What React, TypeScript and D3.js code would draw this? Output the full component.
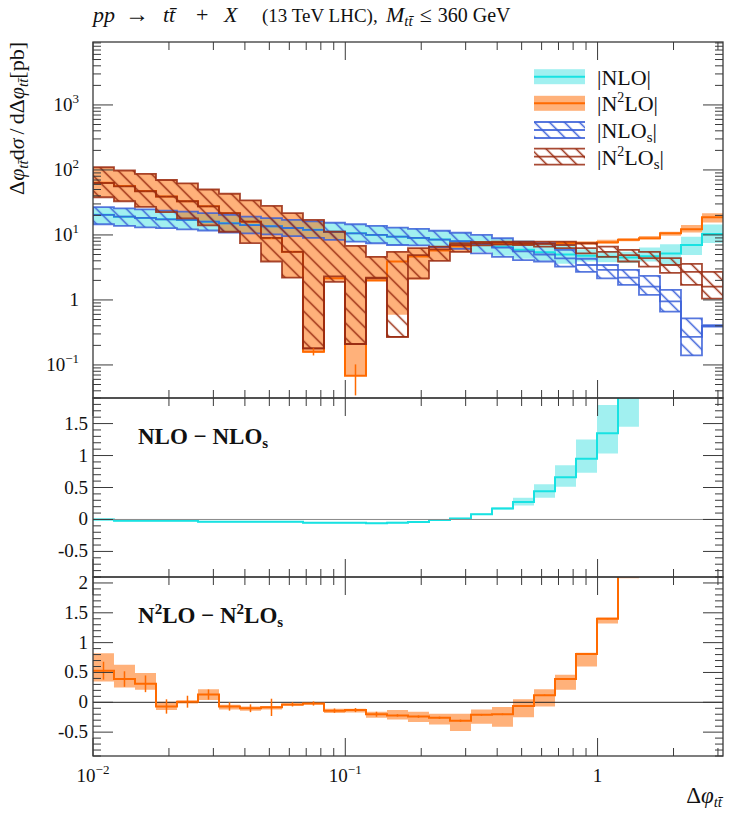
import * as d3 from "d3";

// bin edges in Δφ (30 log-spaced bins from 0.01 to π)
const binEdges = [
  0.01, 0.01211, 0.01467, 0.01777, 0.02152, 0.02607, 0.03158, 0.03825, 0.04633, 0.05612,
  0.06797, 0.08233, 0.09974, 0.1208, 0.1463, 0.1772, 0.2147, 0.26, 0.315, 0.3815,
  0.4621, 0.5598, 0.6781, 0.8212, 0.9948, 1.205, 1.459, 1.768, 2.141, 2.593, 3.1416,
];

// top panel: |NLO|
const nloCentral = [20.4, 19.1, 18.3, 17.4, 17.0, 16.0, 15.1, 14.2, 13.6, 12.8, 12.0, 11.2, 10.6, 10.0, 9.4, 9.0, 8.5, 8.0, 7.3, 6.6, 5.9, 5.4, 5.0, 4.8, 4.6, 4.5, 4.7, 5.2, 7.0, 10.3];
const nloLow = [14.6, 13.8, 13.1, 12.7, 12.2, 11.7, 10.9, 10.6, 10.2, 9.6, 9.0, 8.4, 7.9, 7.45, 7.0, 6.9, 6.5, 6.1, 5.4, 4.8, 4.3, 4.0, 3.6, 3.9, 3.8, 3.7, 3.9, 3.45, 4.9, 7.5];
const nloHigh = [26.7, 25.7, 24.8, 23.6, 22.9, 21.6, 20.4, 19.1, 18.2, 17.1, 16.2, 15.4, 14.6, 13.8, 13.0, 12.4, 11.6, 10.8, 9.9, 9.0, 8.2, 7.5, 7.0, 6.0, 5.6, 5.5, 6.4, 7.2, 9.4, 14.5];

// top panel: |N2LO|
const n2loCentral = [63.5, 56.4, 47.3, 38.9, 33, 27.6, 21.5, 15.9, 8.9, 5.5, 0.16, 2.16, 0.068, 2.0, 3.9, 4.66, 5.74, 6.7, 7.3, 7.4, 7.45, 7.45, 7.5, 7.45, 7.7, 8.4, 8.9, 10.6, 12.2, 18.7];
const n2loLow = [38.5, 33.4, 27.3, 22.7, 18.2, 14.2, 11.3, 7.6, 3.9, 2.2, 0.153, 1.95, 0.068, 1.95, 0.59, 2.05, 4.0, 5.4, 6.9, 7.0, 7.0, 7.0, 7.1, 7.1, 7.3, 8.0, 8.5, 9.7, 10.9, 15.5];
const n2loHigh = [111, 99, 88, 71, 63, 51, 43.5, 34.5, 28, 21.6, 17, 11.3, 6.8, 4.7, 5.5, 6.3, 6.7, 7.6, 7.9, 8.0, 8.0, 8.0, 8.1, 8.0, 8.4, 8.9, 9.6, 11.2, 14.2, 21.6];
const n2loErr = [0.15, 0.13, 0.14, 0.12, 0.1, 0.085, 0.07, 0.065, 0.145, 0.035, 0.02, 0.036, 0.034, 0.042, 0.02, 0.02, 0.02, 0.02, 0.015, 0.015, 0.01, 0.01, 0.01, 0.01, 0.01, 0.01, 0.01, 0.01, 0.01, 0.01];

// top panel: |NLOs|
const nlosCentral = [20.4, 19.1, 18.3, 17.4, 17.0, 16.0, 15.1, 14.2, 13.6, 12.8, 12.0, 11.2, 10.6, 10.0, 9.4, 9.0, 8.5, 8.0, 7.2, 6.4, 5.6, 5.0, 4.35, 3.45, 2.9, 2.2, 1.6, 0.95, 0.27, 0.4];
const nlosLow = [14.6, 13.8, 13.1, 12.7, 12.2, 11.7, 10.9, 10.6, 10.2, 9.6, 9.0, 8.4, 7.9, 7.45, 7.0, 6.9, 6.5, 6.1, 5.2, 4.6, 4.1, 3.9, 3.25, 2.7, 2.15, 1.7, 1.2, 0.66, 0.14, 0.39];
const nlosHigh = [26.7, 25.7, 24.8, 23.6, 22.9, 21.6, 20.4, 19.1, 18.2, 17.1, 16.2, 15.4, 14.6, 13.8, 13.0, 12.4, 11.6, 10.8, 10.0, 8.9, 7.9, 7.45, 5.9, 4.3, 3.45, 2.9, 2.34, 1.43, 0.52, 0.41];

// top panel: |N2LOs|
const n2losCentral = [63, 56, 47, 39, 33, 27.5, 21.6, 16, 9, 5.5, 0.18, 2.3, 0.21, 2.2, 0.27, 4.9, 6.0, 7.0, 7.5, 7.6, 7.5, 7.3, 7.0, 6.25, 5.5, 4.9, 4.4, 3.45, 2.7, 1.6];
const n2losLow = [38, 33, 27, 22.5, 18, 14, 11.2, 7.5, 3.9, 2.2, 0.18, 1.9, 0.21, 2.15, 0.27, 2.15, 4.0, 5.5, 6.9, 7.1, 7.0, 6.6, 6.25, 5.2, 4.6, 3.9, 3.25, 2.6, 1.7, 1.05];
const n2losHigh = [110, 98, 87, 70, 62, 50, 43, 34, 28, 21.6, 17, 11.2, 6.8, 4.6, 5.5, 6.25, 6.6, 7.5, 7.8, 7.9, 7.9, 7.9, 7.9, 7.45, 6.6, 5.9, 5.5, 4.4, 3.6, 2.7];

// middle panel: NLO - NLOs
const dNloCentral = [0.0, -0.02, -0.02, -0.02, -0.02, -0.035, -0.035, -0.035, -0.035, -0.035, -0.05, -0.05, -0.05, -0.06, -0.05, -0.04, -0.01, 0.015, 0.08, 0.17, 0.275, 0.44, 0.66, 0.95, 1.35, 2.1, 3.2, 4.3, 6.7, 9.9];
const dNloLow = [-0.012, -0.032, -0.032, -0.032, -0.032, -0.047, -0.047, -0.047, -0.047, -0.047, -0.062, -0.062, -0.062, -0.072, -0.064, -0.055, -0.024, 0.004, 0.068, 0.155, 0.22, 0.34, 0.51, 0.73, 1.03, 1.45, 2.4, 3.3, 5.0, 8.0];
const dNloHigh = [0.012, -0.008, -0.008, -0.008, -0.008, -0.023, -0.023, -0.023, -0.023, -0.023, -0.038, -0.038, -0.038, -0.048, -0.036, -0.025, 0.004, 0.026, 0.092, 0.19, 0.34, 0.55, 0.85, 1.25, 1.79, 2.8, 4.0, 5.5, 8.0, 12.0];

// bottom panel: N2LO - N2LOs
const dN2loCentral = [0.53, 0.39, 0.31, -0.07, 0.01, 0.13, -0.07, -0.1, -0.085, -0.035, -0.02, -0.14, -0.13, -0.2, -0.22, -0.24, -0.26, -0.31, -0.21, -0.2, -0.06, 0.12, 0.39, 0.81, 1.4, 2.6, 3.8, 6.2, 9.5, 17];
const dN2loLow = [0.35, 0.25, 0.21, -0.13, -0.02, 0.04, -0.12, -0.14, -0.12, -0.06, -0.04, -0.18, -0.17, -0.26, -0.29, -0.33, -0.37, -0.48, -0.36, -0.41, -0.25, -0.07, 0.21, 0.6, 1.32, 2.08, 3.4, 5.6, 8.6, 15];
const dN2loHigh = [0.82, 0.63, 0.49, 0.01, 0.03, 0.22, -0.04, -0.07, -0.06, -0.02, 0.0, -0.11, -0.11, -0.16, -0.13, -0.16, -0.19, -0.19, -0.12, -0.08, 0.05, 0.22, 0.46, 0.83, 1.42, 2.9, 4.2, 6.8, 10.4, 19];
const dN2loErr = [0.15, 0.13, 0.14, 0.12, 0.1, 0.085, 0.07, 0.065, 0.145, 0.035, 0.035, 0.036, 0.034, 0.042, 0.02, 0.02, 0.02, 0.02, 0.015, 0.015, 0.01, 0.01, 0.01, 0.01, 0.01, 0.01, 0.01, 0.01, 0.01, 0.01];

const topTickLabels = [
  { v: 0.1, base: "10", exp: "−1" },
  { v: 1, base: "1", exp: "" },
  { v: 10, base: "10", exp: "1" },
  { v: 100, base: "10", exp: "2" },
  { v: 1000, base: "10", exp: "3" },
];
const midTickLabels = [-0.5, 0, 0.5, 1, 1.5];
const botTickLabels = [-0.5, 0, 0.5, 1, 1.5, 2];
const xTickLabels = [
  { v: 0.01, base: "10", exp: "−2" },
  { v: 0.1, base: "10", exp: "−1" },
  { v: 1, base: "1", exp: "" },
];

const W = 747;
const H = 815;
const X0 = 93;
const X1 = 723;
const TOP = [42, 398];
const MID = [398, 577];
const BOT = [577, 756];

const CYAN = "#00d6d6";
const CYAN_LINE = "#18e2e2";
const ORANGE = "#ff6a00";
const BLUE = "#3a5fd8";
const DARKRED = "#992a10";
const AXIS = "#3a3a3a";
const FONT = "'Liberation Serif', 'Times New Roman', serif";

const x = d3.scaleLog().domain([0.01, Math.PI]).range([X0, X1]);
const yTop = d3.scaleLog().domain([0.031, 9300]).range([TOP[1], TOP[0]]);
const yMid = d3.scaleLinear().domain([-0.9, 1.9]).range([MID[1], MID[0]]);
const yBot = d3.scaleLinear().domain([-0.9, 2.1]).range([BOT[1], BOT[0]]);

type Scale = (v: number) => number;

function stepLine(vals: number[], y: Scale) {
  const pts = vals.flatMap((v, i) => [[binEdges[i], v], [binEdges[i + 1], v]] as [number, number][]);
  return d3.line<[number, number]>().x((d) => x(d[0])).y((d) => y(d[1]))(pts) ?? "";
}

function stepBand(lo: number[], hi: number[], y: Scale) {
  const pts = lo.flatMap((v, i) => [[binEdges[i], v, hi[i]], [binEdges[i + 1], v, hi[i]]] as [number, number, number][]);
  return d3
    .area<[number, number, number]>()
    .x((d) => x(d[0]))
    .y0((d) => y(d[1]))
    .y1((d) => y(d[2]))(pts) ?? "";
}

function errorBars(c: number[], err: number[], y: Scale, color: string) {
  return c.map((v, i) => {
    const xc = x(Math.sqrt(binEdges[i] * binEdges[i + 1]));
    return <line key={i} x1={xc} x2={xc} y1={y(v - err[i])} y2={y(v + err[i])} stroke={color} strokeWidth={1.5} />;
  });
}

function XTicks({ y0, y1 }: { y0: number; y1: number }) {
  return (
    <g stroke={AXIS} strokeWidth={1}>
      {x.ticks().map((t, i) => {
        const lg = Math.log10(t);
        const major = Math.abs(lg - Math.round(lg)) < 1e-6;
        const len = major ? 18 : 8;
        const px = x(t);
        return (
          <g key={i}>
            <line x1={px} x2={px} y1={y0} y2={y0 + len} />
            <line x1={px} x2={px} y1={y1} y2={y1 - len} />
          </g>
        );
      })}
    </g>
  );
}

function YTicks({ ticks, y, isMajor }: { ticks: number[]; y: Scale; isMajor: (t: number) => boolean }) {
  return (
    <g stroke={AXIS} strokeWidth={1}>
      {ticks.map((t, i) => {
        const len = isMajor(t) ? 20 : 8;
        const py = y(t);
        return (
          <g key={i}>
            <line x1={X0} x2={X0 + len} y1={py} y2={py} />
            <line x1={X1} x2={X1 - len} y1={py} y2={py} />
          </g>
        );
      })}
    </g>
  );
}

const isHalf = (t: number) => Math.abs(t * 2 - Math.round(t * 2)) < 1e-6;
const isDecade = (t: number) => Math.abs(Math.log10(t) - Math.round(Math.log10(t))) < 1e-6;

function HatchBand({ lo, c, hi, color, pattern }: { lo: number[]; c: number[]; hi: number[]; color: string; pattern: string }) {
  const band = stepBand(lo, hi, yTop);
  return (
    <g>
      <path d={band} fill={`url(#${pattern})`} stroke="none" />
      <path d={band} fill="none" stroke={color} strokeWidth={1.8} strokeOpacity={0.85} />
      <path d={stepLine(c, yTop)} fill="none" stroke={color} strokeWidth={1.8} strokeOpacity={0.85} />
    </g>
  );
}

function Legend() {
  const rows = [76.7, 103.3, 130, 156.7];
  const sx = 534;
  const sw = 51;
  const tx = 597;
  const fs = 22;
  return (
    <g fontFamily={FONT} fontSize={fs} fill="#111">
      <rect x={sx} y={rows[0] - 7.5} width={sw} height={15} fill={CYAN} fillOpacity={0.37} />
      <line x1={sx} x2={sx + sw} y1={rows[0]} y2={rows[0]} stroke={CYAN_LINE} strokeWidth={2} />
      <text x={tx} y={rows[0] + 8}>|NLO|</text>

      <rect x={sx} y={rows[1] - 7.5} width={sw} height={15} fill={ORANGE} fillOpacity={0.52} />
      <line x1={sx} x2={sx + sw} y1={rows[1]} y2={rows[1]} stroke={ORANGE} strokeWidth={2} />
      <text x={tx} y={rows[1] + 8}>
        |N<tspan dy={-9} fontSize={14}>2</tspan>
        <tspan dy={9}>LO|</tspan>
      </text>

      <rect x={sx} y={rows[2] - 8} width={sw} height={16} fill="url(#hatchBlue)" />
      {[-8, 0, 8].map((d) => (
        <line key={d} x1={sx} x2={sx + sw} y1={rows[2] + d} y2={rows[2] + d} stroke={BLUE} strokeWidth={1.8} strokeOpacity={0.85} />
      ))}
      <text x={tx} y={rows[2] + 8}>
        |NLO<tspan dy={4} fontSize={15}>s</tspan>
        <tspan dy={-4}>|</tspan>
      </text>

      <rect x={sx} y={rows[3] - 8} width={sw} height={16} fill="url(#hatchRed)" />
      {[-8, 0, 8].map((d) => (
        <line key={d} x1={sx} x2={sx + sw} y1={rows[3] + d} y2={rows[3] + d} stroke={DARKRED} strokeWidth={1.8} strokeOpacity={0.85} />
      ))}
      <text x={tx} y={rows[3] + 8}>
        |N<tspan dy={-9} fontSize={14}>2</tspan>
        <tspan dy={9}>LO</tspan>
        <tspan dy={4} fontSize={15}>s</tspan>
        <tspan dy={-4}>|</tspan>
      </text>
    </g>
  );
}

function Title() {
  const y = 22;
  return (
    <text y={y} fontSize={22} fontFamily={FONT} fill="#111">
      <tspan x={93} fontStyle="italic">pp</tspan>
      <tspan x={125} fontSize={24}>→</tspan>
      <tspan x={163} fontStyle="italic">{"tt\u0304"}</tspan>
      <tspan x={196}>+</tspan>
      <tspan x={224} fontStyle="italic">X</tspan>
      <tspan x={262} fontSize={19}>(13 TeV LHC),</tspan>
      <tspan x={386} fontStyle="italic">M</tspan>
      <tspan fontSize={15} fontStyle="italic" dy={4}>{"tt\u0304"}</tspan>
      <tspan dy={-4} dx={7}>≤</tspan>
      <tspan dx={6} fontSize={20}>360 GeV</tspan>
    </text>
  );
}

export default function App() {
  return (
    <div style={{ position: "absolute", left: 0, top: 0, background: "#fff" }}>
      <svg width={W} height={H} viewBox={`0 0 ${W} ${H}`} style={{ display: "block" }}>
        <defs>
          <pattern id="hatchBlue" patternUnits="userSpaceOnUse" width={10.6} height={10.6} patternTransform="rotate(-45)">
            <line x1={5.3} x2={5.3} y1={-1} y2={12} stroke={BLUE} strokeWidth={1.5} />
          </pattern>
          <pattern id="hatchRed" patternUnits="userSpaceOnUse" width={10.6} height={10.6} patternTransform="rotate(-45)">
            <line x1={5.3} x2={5.3} y1={-1} y2={12} stroke={DARKRED} strokeWidth={1.5} />
          </pattern>
          <clipPath id="clipTop">
            <rect x={X0} y={TOP[0]} width={X1 - X0} height={TOP[1] - TOP[0]} />
          </clipPath>
          <clipPath id="clipMid">
            <rect x={X0} y={MID[0]} width={X1 - X0} height={MID[1] - MID[0]} />
          </clipPath>
          <clipPath id="clipBot">
            <rect x={X0} y={BOT[0]} width={X1 - X0} height={BOT[1] - BOT[0]} />
          </clipPath>
        </defs>
        <rect width={W} height={H} fill="#fff" />

        <Title />

        {/* top panel */}
        <g clipPath="url(#clipTop)">
          <path d={stepBand(nloLow, nloHigh, yTop)} fill={CYAN} fillOpacity={0.37} />
          <path d={stepBand(n2loLow, n2loHigh, yTop)} fill={ORANGE} fillOpacity={0.52} />
          <path d={stepLine(nloCentral, yTop)} fill="none" stroke={CYAN_LINE} strokeWidth={2} />
          <path d={stepLine(n2loCentral, yTop)} fill="none" stroke={ORANGE} strokeWidth={2} />
          <HatchBand lo={nlosLow} c={nlosCentral} hi={nlosHigh} color={BLUE} pattern="hatchBlue" />
          <HatchBand lo={n2losLow} c={n2losCentral} hi={n2losHigh} color={DARKRED} pattern="hatchRed" />
          {errorBars(n2loCentral, n2loErr, yTop, ORANGE)}
        </g>
        <Legend />

        {/* middle panel */}
        <g clipPath="url(#clipMid)">
          <path d={stepBand(dNloLow, dNloHigh, yMid)} fill={CYAN} fillOpacity={0.37} />
          <path d={stepLine(dNloCentral, yMid)} fill="none" stroke={CYAN_LINE} strokeWidth={2} />
          <line x1={X0} x2={X1} y1={yMid(0)} y2={yMid(0)} stroke="#888" strokeWidth={1} />
        </g>
        <text x={138} y={444} fontSize={23} fontWeight="bold" fontFamily={FONT} fill="#111">
          NLO − NLO<tspan dy={4} fontSize={15}>s</tspan>
        </text>

        {/* bottom panel */}
        <g clipPath="url(#clipBot)">
          <path d={stepBand(dN2loLow, dN2loHigh, yBot)} fill={ORANGE} fillOpacity={0.52} />
          <line x1={X0} x2={X1} y1={yBot(0)} y2={yBot(0)} stroke="#222" strokeWidth={1} />
          <path d={stepLine(dN2loCentral, yBot)} fill="none" stroke={ORANGE} strokeWidth={2} />
          {errorBars(dN2loCentral, dN2loErr, yBot, ORANGE)}
        </g>
        <text x={138} y={623} fontSize={23} fontWeight="bold" fontFamily={FONT} fill="#111">
          N<tspan dy={-9} fontSize={15}>2</tspan>
          <tspan dy={9}>LO − N</tspan>
          <tspan dy={-9} fontSize={15}>2</tspan>
          <tspan dy={9}>LO</tspan>
          <tspan dy={4} fontSize={15}>s</tspan>
        </text>

        {/* ticks */}
        <XTicks y0={TOP[0]} y1={TOP[1]} />
        <XTicks y0={MID[0]} y1={MID[1]} />
        <XTicks y0={BOT[0]} y1={BOT[1]} />
        <YTicks ticks={yTop.ticks()} y={yTop} isMajor={isDecade} />
        <YTicks ticks={yMid.ticks(28)} y={yMid} isMajor={isHalf} />
        <YTicks ticks={yBot.ticks(30)} y={yBot} isMajor={isHalf} />

        {/* frames */}
        <g fill="none" stroke={AXIS} strokeWidth={1.3}>
          <rect x={X0} y={TOP[0]} width={X1 - X0} height={TOP[1] - TOP[0]} />
          <rect x={X0} y={MID[0]} width={X1 - X0} height={MID[1] - MID[0]} />
          <rect x={X0} y={BOT[0]} width={X1 - X0} height={BOT[1] - BOT[0]} />
        </g>

        {/* tick labels */}
        <g fontFamily={FONT} fontSize={19} fill="#111">
          {topTickLabels.map((t) => (
            <text key={t.v} x={79} y={yTop(t.v) + 6} textAnchor="end">
              {t.base}
              {t.exp && (
                <tspan dy={-8} fontSize={13}>
                  {t.exp}
                </tspan>
              )}
            </text>
          ))}
          {midTickLabels.map((t) => (
            <text key={`m${t}`} x={88} y={yMid(t) + 6} textAnchor="end">
              {String(t)}
            </text>
          ))}
          {botTickLabels.map((t) => (
            <text key={`b${t}`} x={88} y={yBot(t) + 6} textAnchor="end">
              {String(t)}
            </text>
          ))}
          {xTickLabels.map((t) => (
            <text key={`x${t.v}`} x={x(t.v)} y={782} textAnchor="middle">
              {t.base}
              {t.exp && (
                <tspan dy={-8} fontSize={13}>
                  {t.exp}
                </tspan>
              )}
            </text>
          ))}
        </g>

        {/* axis titles */}
        <text x={722} y={803} textAnchor="end" fontSize={23} fontFamily={FONT} fill="#111">
          Δ<tspan fontStyle="italic">φ</tspan>
          <tspan fontStyle="italic" fontSize={15} dy={4}>{"tt\u0304"}</tspan>
        </text>
        <text transform="translate(24,42) rotate(-90)" textAnchor="end" fontSize={22} fontFamily={FONT} fill="#111">
          Δ<tspan fontStyle="italic">φ</tspan>
          <tspan fontStyle="italic" fontSize={15} dy={4}>{"tt\u0304"}</tspan>
          <tspan dy={-4}>d</tspan>
          <tspan fontStyle="italic">σ</tspan>
          <tspan dx={4}>/</tspan>
          <tspan dx={4}>dΔ</tspan>
          <tspan fontStyle="italic">φ</tspan>
          <tspan fontStyle="italic" fontSize={15} dy={4}>{"tt\u0304"}</tspan>
          <tspan dy={-4}>[pb]</tspan>
        </text>
      </svg>
    </div>
  );
}
